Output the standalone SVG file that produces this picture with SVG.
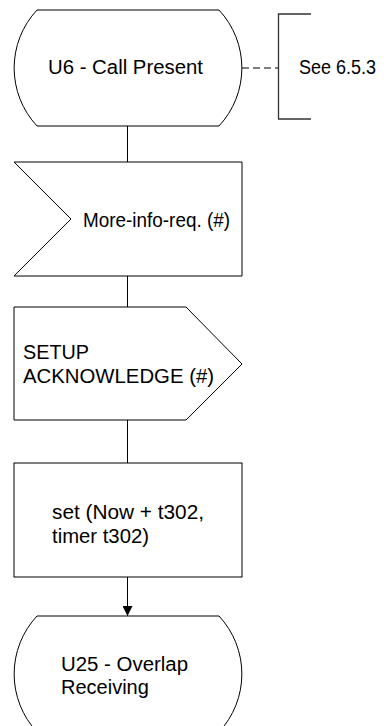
<svg xmlns="http://www.w3.org/2000/svg" width="388" height="726" viewBox="0 0 388 726">
<style>
.s{fill:#fff;stroke:#000;stroke-width:1}
.t{font-family:"Liberation Sans",Arial,sans-serif;font-size:20px;fill:#000}
.c{fill:none;stroke:#000;stroke-width:1}
</style>
<defs>
<marker id="arr" markerWidth="10" markerHeight="10" refX="10" refY="5" orient="auto" markerUnits="userSpaceOnUse">
<path d="M0,0 L10,5 L0,10 Z" fill="#000"/>
</marker>
</defs>
<rect width="388" height="726" fill="#fff"/>
<g id="connectors">
<line class="c" x1="127.5" y1="126" x2="127.5" y2="162"/>
<line class="c" x1="127.5" y1="276" x2="127.5" y2="307"/>
<line class="c" x1="127.5" y1="420" x2="127.5" y2="463"/>
<line class="c" x1="127.5" y1="577" x2="127.5" y2="616" marker-end="url(#arr)"/>
<line class="c" x1="242" y1="68" x2="278" y2="68" stroke-dasharray="7 4"/>
</g>
<g id="state-u6">
<path class="s" d="M37,10 L219,10 A85,85 0 0 1 219,126 L37,126 A85,85 0 0 1 37,10 Z"/>
<text class="t" x="48" y="74" textLength="155" lengthAdjust="spacingAndGlyphs">U6 - Call Present</text>
</g>
<g id="comment">
<path d="M311,14 L278.5,14 L278.5,119 L311,119" fill="none" stroke="#333" stroke-width="1.3"/>
<text class="t" x="299" y="74" textLength="77" lengthAdjust="spacingAndGlyphs">See 6.5.3</text>
</g>
<g id="input-more-info">
<path class="s" d="M14,162 L242,162 L242,276 L14,276 L71,219 Z"/>
<text class="t" x="83" y="227" textLength="147" lengthAdjust="spacingAndGlyphs">More-info-req. (#)</text>
</g>
<g id="output-setup-ack">
<path class="s" d="M14,307 L186,307 L242,364 L186,420 L14,420 Z"/>
<text class="t" x="23" y="359" textLength="66" lengthAdjust="spacingAndGlyphs">SETUP</text>
<text class="t" x="23" y="383" textLength="191" lengthAdjust="spacingAndGlyphs">ACKNOWLEDGE (#)</text>
</g>
<g id="task-set-timer">
<rect class="s" x="14" y="463" width="228" height="114"/>
<text class="t" x="52" y="519" textLength="152" lengthAdjust="spacingAndGlyphs">set (Now + t302,</text>
<text class="t" x="52" y="543" textLength="97" lengthAdjust="spacingAndGlyphs">timer t302)</text>
</g>
<g id="state-u25">
<path class="s" d="M37,616 L219,616 A85,85 0 0 1 219,732 L37,732 A85,85 0 0 1 37,616 Z"/>
<text class="t" x="61" y="671" textLength="127" lengthAdjust="spacingAndGlyphs">U25 - Overlap</text>
<text class="t" x="61" y="694">Receiving</text>
</g>
</svg>
